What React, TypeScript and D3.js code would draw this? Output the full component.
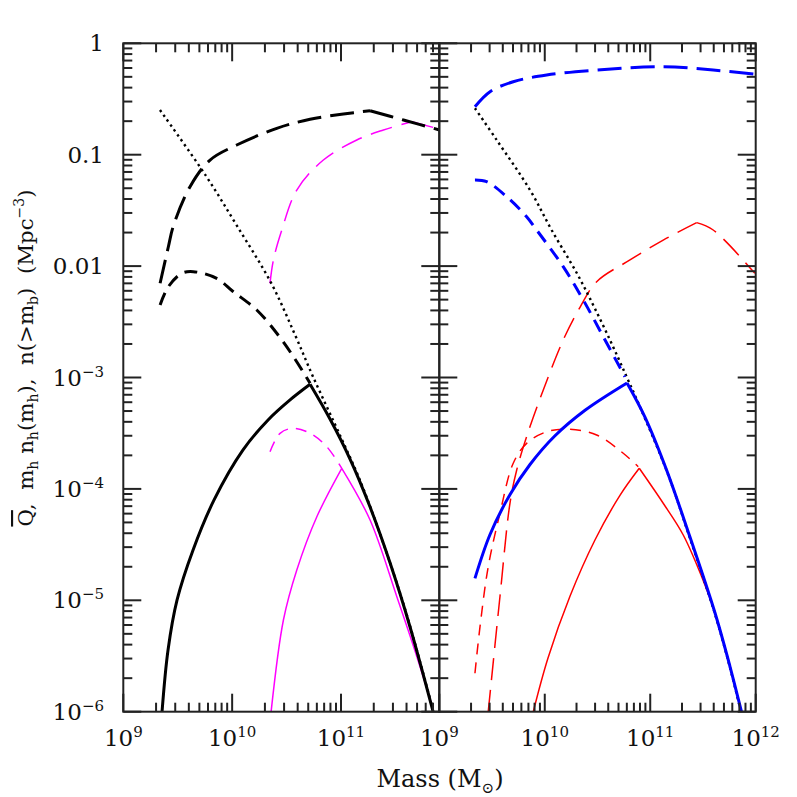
import React from 'react';
import * as d3 from 'd3';

type P = [number, number]; // [log10 mass, log10 value]

// ---- data (log10 M, log10 value) ----
// left panel
const dottedLeft: P[] = [[9.337,-0.599],[9.76,-1.191],[10.045,-1.64],[10.358,-2.151],[10.578,-2.618],[10.744,-2.995],[11.01,-3.56],[11.203,-3.992],[11.571,-5.024],[11.847,-5.993]];
const blackSolidRise: P[] = [[9.356,-6.0],[9.411,-5.446],[9.494,-4.997],[9.641,-4.548],[9.834,-4.099],[10.1,-3.65],[10.33,-3.381],[10.532,-3.201],[10.716,-3.061]];
const blackSolidFall: P[] = [[10.716,-3.061],[10.9,-3.375],[11.084,-3.734],[11.268,-4.165],[11.452,-4.668],[11.635,-5.242],[11.847,-6.003]];
const blackLongRise: P[] = [[9.338,-2.154],[9.414,-1.826],[9.46,-1.64],[9.613,-1.287],[9.797,-1.048],[10.042,-0.913],[10.41,-0.763],[10.716,-0.682],[11.022,-0.635],[11.267,-0.605]];
const blackLongFall: P[] = [[11.267,-0.605],[11.574,-0.689],[11.905,-0.778]];
const blackShort: P[] = [[9.338,-2.349],[9.414,-2.185],[9.537,-2.065],[9.643,-2.05],[9.858,-2.11],[10.011,-2.23],[10.226,-2.394],[10.41,-2.603],[10.563,-2.813],[10.716,-3.052]];
const magentaLongRise: P[] = [[10.348,-2.154],[10.379,-1.945],[10.456,-1.676],[10.594,-1.317],[10.838,-1.048],[11.145,-0.868],[11.39,-0.778],[11.651,-0.704]];
const magentaLongFall: P[] = [[11.651,-0.704],[11.905,-0.77]];
const magentaShort: P[] = [[10.348,-3.666],[10.44,-3.501],[10.563,-3.456],[10.716,-3.501],[10.869,-3.621],[11.007,-3.815]];
const magentaSolidRise: P[] = [[10.358,-6.0],[10.471,-5.177],[10.594,-4.728],[10.778,-4.25],[11.007,-3.815]];
const magentaSolidFall: P[] = [[11.007,-3.815],[11.267,-4.279],[11.513,-4.968],[11.697,-5.506],[11.849,-5.985]];

// right panel
const dottedRight: P[] = [[9.338,-0.583],[9.544,-0.868],[9.86,-1.317],[10.065,-1.676],[10.302,-2.06],[10.428,-2.29],[10.618,-2.663],[10.776,-2.993],[10.902,-3.262],[11.155,-3.835],[11.376,-4.44],[11.613,-5.12],[11.755,-5.6],[11.86,-6.0]];
const blueLong: P[] = [[9.338,-0.569],[9.481,-0.434],[9.701,-0.345],[10.018,-0.285],[10.492,-0.24],[11.123,-0.21],[11.597,-0.24],[11.992,-0.278]];
const blueShort: P[] = [[9.338,-1.227],[9.449,-1.242],[9.639,-1.377],[9.828,-1.557],[9.923,-1.676],[10.175,-2.005],[10.365,-2.304],[10.555,-2.634],[10.76,-2.993]];
const blueSolidRise: P[] = [[9.338,-4.803],[9.481,-4.409],[9.671,-4.05],[9.86,-3.781],[10.097,-3.523],[10.382,-3.294],[10.78,-3.049]];
const blueSolidFall: P[] = [[10.78,-3.049],[10.95,-3.355],[11.155,-3.83],[11.376,-4.43],[11.613,-5.11],[11.755,-5.59],[11.865,-6.0]];
const redLongRise: P[] = [[9.464,-6.0],[9.575,-4.968],[9.67,-4.129],[9.734,-3.83],[9.828,-3.531],[9.986,-3.112],[10.175,-2.663],[10.334,-2.37],[10.492,-2.14],[10.808,-1.945],[11.123,-1.766],[11.44,-1.61]];
const redLongFall: P[] = [[11.44,-1.61],[11.597,-1.676],[11.992,-2.065]];
const redShort: P[] = [[9.338,-5.655],[9.386,-5.237],[9.464,-4.698],[9.575,-4.219],[9.701,-3.77],[9.828,-3.591],[10.018,-3.487],[10.239,-3.465],[10.492,-3.516],[10.744,-3.68],[10.886,-3.801]];
const redSolidRise: P[] = [[9.891,-6.0],[10.03,-5.52],[10.239,-4.964],[10.476,-4.459],[10.713,-4.058],[10.896,-3.815]];
const redSolidFall: P[] = [[10.896,-3.815],[11.123,-4.129],[11.313,-4.414],[11.518,-4.86],[11.613,-5.11],[11.755,-5.59],[11.865,-6.0]];

// ticks / labels
const yMajorValues = [1, 0.1, 0.01, 1e-3, 1e-4, 1e-5, 1e-6];
const yLabelMain = ['1', '0.1', '0.01', '10', '10', '10', '10'];
const yLabelSup = ['', '', '', '\u22123', '\u22124', '\u22125', '\u22126'];
const xLeftMajor = [1e9, 1e10, 1e11];
const xLeftSup = ['9', '10', '11'];
const xRightMajor = [1e9, 1e10, 1e11, 1e12];
const xRightSup = ['9', '10', '11', '12'];

// ---- layout ----
const W = 797, H = 797;
const TOP = 43.3, BOTTOM = 711.7;
const L0 = 123.3, MID = 439.3, R1 = 755.7;
const FONT = 'DejaVu Serif, serif';
const AX = '#222';

const yScale = d3.scaleLog().domain([1e-6, 1]).range([BOTTOM, TOP]);
const xLeft = d3.scaleLog().domain([1e9, 8e11]).range([L0, MID]);
const xRight = d3.scaleLog().domain([1e9, 1e12]).range([MID, R1]);

type Series = { segs: P[][]; color: string; width: number; dash?: string };

const leftSeries: Series[] = [
  { segs: [magentaLongRise, magentaLongFall], color: '#ff00ff', width: 1.5, dash: '22,10' },
  { segs: [magentaShort], color: '#ff00ff', width: 1.5, dash: '11,8' },
  { segs: [magentaSolidRise, magentaSolidFall], color: '#ff00ff', width: 1.5 },
  { segs: [dottedLeft], color: '#000', width: 2.4, dash: '2.4,3.6' },
  { segs: [blackLongRise, blackLongFall], color: '#000', width: 3, dash: '24,9' },
  { segs: [blackShort], color: '#000', width: 3, dash: '13,8' },
  { segs: [blackSolidRise, blackSolidFall], color: '#000', width: 3 },
];
const rightSeries: Series[] = [
  { segs: [redLongRise, redLongFall], color: '#ff0000', width: 1.5, dash: '22,10' },
  { segs: [redShort], color: '#ff0000', width: 1.5, dash: '11,8' },
  { segs: [redSolidRise, redSolidFall], color: '#ff0000', width: 1.5 },
  { segs: [dottedRight], color: '#000', width: 2.4, dash: '2.4,3.6' },
  { segs: [blueLong], color: '#0000ff', width: 3, dash: '24,9' },
  { segs: [blueShort], color: '#0000ff', width: 3, dash: '13,8' },
  { segs: [blueSolidRise, blueSolidFall], color: '#0000ff', width: 3 },
];

function minorTicks(e0: number, e1: number, max: number): number[] {
  const out: number[] = [];
  for (let e = e0; e < e1; e++) for (let k = 2; k <= 9; k++) {
    const v = k * Math.pow(10, e);
    if (v < max * 0.999) out.push(v);
  }
  return out;
}

const MAJ = 18, MIN = 9;

function Panel({ xs, x0, x1, series, id }: { xs: d3.ScaleLogarithmic<number, number>; x0: number; x1: number; series: Series[]; id: string }) {
  const line = d3.line<P>()
    .x(d => xs(Math.pow(10, d[0])))
    .y(d => yScale(Math.pow(10, d[1])))
    .curve(d3.curveCatmullRom.alpha(0.5));
  const dom = xs.domain();
  const xMaj = [1e9, 1e10, 1e11, 1e12].filter(v => v >= dom[0] && v <= dom[1] * 1.0001);
  const xMin = minorTicks(9, 12, dom[1]);
  const yMin = minorTicks(-6, 0, 1);
  return (
    <g>
      <defs>
        <clipPath id={id}><rect x={x0} y={TOP} width={x1 - x0} height={BOTTOM - TOP} /></clipPath>
      </defs>
      <g clipPath={`url(#${id})`}>
        {series.map((s, i) => s.segs.map((seg, j) => (
          <path key={`${i}-${j}`} d={line(seg) || ''} fill="none" stroke={s.color} strokeWidth={s.width}
            strokeDasharray={s.dash} strokeLinejoin="round" />
        )))}
      </g>
      <g stroke={AX} strokeWidth={2}>
        {xMaj.map(v => (
          <g key={'xM' + v}>
            <line x1={xs(v)} x2={xs(v)} y1={BOTTOM} y2={BOTTOM - MAJ} />
            <line x1={xs(v)} x2={xs(v)} y1={TOP} y2={TOP + MAJ} />
          </g>
        ))}
        {xMin.map(v => (
          <g key={'xm' + v}>
            <line x1={xs(v)} x2={xs(v)} y1={BOTTOM} y2={BOTTOM - MIN} />
            <line x1={xs(v)} x2={xs(v)} y1={TOP} y2={TOP + MIN} />
          </g>
        ))}
        {yMajorValues.map(v => (
          <g key={'yM' + v}>
            <line x1={x0} x2={x0 + MAJ} y1={yScale(v)} y2={yScale(v)} />
            <line x1={x1} x2={x1 - MAJ} y1={yScale(v)} y2={yScale(v)} />
          </g>
        ))}
        {yMin.map(v => (
          <g key={'ym' + v}>
            <line x1={x0} x2={x0 + MIN} y1={yScale(v)} y2={yScale(v)} />
            <line x1={x1} x2={x1 - MIN} y1={yScale(v)} y2={yScale(v)} />
          </g>
        ))}
        <rect x={x0} y={TOP} width={x1 - x0} height={BOTTOM - TOP} fill="none" />
      </g>
    </g>
  );
}

export default function App() {
  return (
    <svg width={W} height={H} viewBox={`0 0 ${W} ${H}`} style={{ position: 'absolute', left: 0, top: 0, background: '#fff' }}
      fontFamily={FONT}>
      <rect x={0} y={0} width={W} height={H} fill="#fff" />
      <Panel xs={xLeft} x0={L0} x1={MID} series={leftSeries} id="clipL" />
      <Panel xs={xRight} x0={MID} x1={R1} series={rightSeries} id="clipR" />

      {/* y tick labels */}
      {yMajorValues.map((v, i) => (
        <text key={'yl' + i} x={104} y={yScale(v) + 8} textAnchor="end" fontSize={23} fill="#111">
          {yLabelMain[i]}
          {yLabelSup[i] && <tspan dy={-9} fontSize={15}>{yLabelSup[i]}</tspan>}
        </text>
      ))}
      {/* x tick labels */}
      {xLeftMajor.map((v, i) => (
        <text key={'xll' + i} x={xLeft(v)} y={746} textAnchor="middle" fontSize={23} fill="#111">
          10<tspan dy={-9} fontSize={15}>{xLeftSup[i]}</tspan>
        </text>
      ))}
      {xRightMajor.map((v, i) => (
        <text key={'xrl' + i} x={xRight(v)} y={746} textAnchor="middle" fontSize={23} fill="#111">
          10<tspan dy={-9} fontSize={15}>{xRightSup[i]}</tspan>
        </text>
      ))}
      {/* x title */}
      <text x={440} y={787} textAnchor="middle" fontSize={24} fill="#111" style={{ whiteSpace: 'pre' }}>
        {'Mass (M'}<tspan dy={6} fontSize={15}>{'\u2299'}</tspan><tspan dy={-6}>{')'}</tspan>
      </text>
      {/* y title */}
      <text transform={`translate(33,358) rotate(-90)`} textAnchor="middle" fontSize={21.3} fill="#111" style={{ whiteSpace: 'pre' }}>
        <tspan style={{ textDecoration: 'overline' }}>Q</tspan>{',  m'}<tspan dy={5} fontSize={14}>h</tspan>
        <tspan dy={-5}>{' n'}</tspan><tspan dy={5} fontSize={14}>h</tspan>
        <tspan dy={-5}>{'(m'}</tspan><tspan dy={5} fontSize={14}>h</tspan>
        <tspan dy={-5}>{'),  n(>m'}</tspan><tspan dy={5} fontSize={14}>b</tspan>
        <tspan dy={-5}>{')  (Mpc'}</tspan><tspan dy={-9} fontSize={14}>{'\u22123'}</tspan>
        <tspan dy={9}>{')'}</tspan>
      </text>
    </svg>
  );
}
